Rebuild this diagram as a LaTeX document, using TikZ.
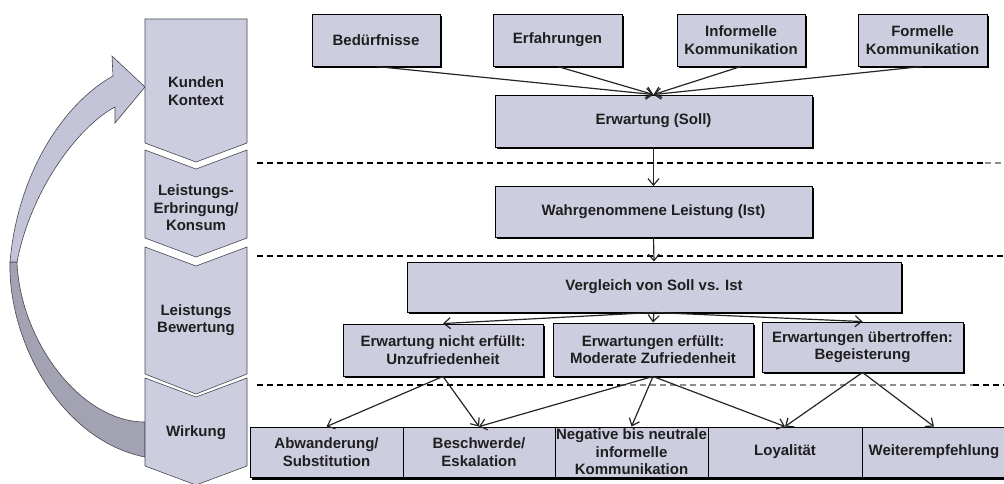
\documentclass[tikz,border=0pt]{standalone}
\usepackage{fontspec}
\setmainfont{Liberation Sans}
\usetikzlibrary{arrows.meta,shadows}

\definecolor{boxfill}{RGB}{205,205,224}
\definecolor{bandlight}{RGB}{196,196,216}
\definecolor{banddark}{RGB}{162,162,178}
\definecolor{chevline}{RGB}{70,70,80}
\definecolor{sepgrey}{RGB}{140,140,140}

\begin{document}
\begin{tikzpicture}[x=1pt,y=-1pt,
  txt/.style={font=\fontsize{15}{17.5}\selectfont\bfseries, text=black!88},
  box/.style={txt, draw=black, line width=0.9pt, fill=boxfill, align=center,
    inner sep=0pt,
    drop shadow={shadow xshift=1.5pt, shadow yshift=-1.5pt, fill=black, opacity=1}},
  cell/.style={txt, draw=black, line width=0.9pt, fill=boxfill, align=center,
    inner sep=0pt, minimum height=50pt},
  chev/.style={fill=boxfill, draw=chevline, line width=0.6pt},
  stagetxt/.style={txt, align=center},
  conn/.style={draw=black!85, line width=1.2pt,
    -{Straight Barb[length=6.5pt,width=11pt,line width=1.2pt]}},
  sep/.style={line width=1.2pt, dash pattern=on 6pt off 4pt},
]
\useasboundingbox (0,0) rectangle (1004,483);

% ---- feedback ribbon from "Wirkung" back to "Kunden Kontext"
\path[fill=banddark, draw=chevline, line width=0.6pt]
  (10,262) .. controls (8,340) and (60,440) .. (145,457)
  -- (145,422) .. controls (80,422) and (20,340) .. (17,262) -- cycle;
\path[fill=bandlight, draw=chevline, line width=0.6pt]
  (10,262) .. controls (18,170) and (66,102) .. (113,76)
  -- (112,56) -- (145,87) -- (115,123) -- (115,107)
  .. controls (82,124) and (32,185) .. (17,262) -- cycle;

% ---- phase chevrons
\path[chev] (145,19) -- (247,19) -- (247,143) -- (196,162) -- (145,143) -- cycle;
\path[chev] (145,150) -- (196,169) -- (247,150) -- (247,238) -- (196,257) -- (145,238) -- cycle;
\path[chev] (145,247) -- (196,266) -- (247,247) -- (247,374) -- (196,394) -- (145,374) -- cycle;
\path[chev] (145,378) -- (196,397) -- (247,378) -- (247,466) -- (196,485) -- (145,466) -- cycle;

\node[stagetxt] (kunden) at (196,91) {Kunden\\Kontext};
\node[stagetxt] (erbring) at (196,208) {Leistungs-\\Erbringung/\\Konsum};
\node[stagetxt] (bewert) at (196,320) {Leistungs\\Bewertung};
\node[stagetxt] (wirk) at (196,433) {Wirkung};

% ---- phase separators
\draw[sep] (257,163) -- (985,163);
\draw[sep, sepgrey] (985,163) -- (1004,163);
\draw[sep] (257,256) -- (1004,256);
\draw[sep] (257,385) -- (620,385);
\draw[sep, sepgrey] (620,385) -- (973,385);
\draw[sep] (973,385) -- (1004,385);

% ---- influences on the expectation
\node[box, minimum width=128pt, minimum height=52pt] (bed) at (376,40) {Bedürfnisse};
\node[box, minimum width=129pt, minimum height=52pt] (erf) at (557.5,40) {Erfahrungen};
\node[box, minimum width=128pt, minimum height=52pt] (inf) at (741,40) {Informelle\\Kommunikation};
\node[box, minimum width=129pt, minimum height=52pt] (form) at (922.5,40) {Formelle\\Kommunikation};

\node[box, minimum width=317pt, minimum height=52pt] (soll) at (653.5,121) {Erwartung (Soll)};
\node[box, minimum width=317pt, minimum height=51pt] (ist) at (653.5,212) {Wahrgenommene Leistung (Ist)};
\node[box, minimum width=494pt, minimum height=50pt] (vgl) at (654,287) {Vergleich von Soll vs. Ist};

% ---- comparison outcomes
\node[box, minimum width=200pt, minimum height=52pt] (unz) at (443,350) {Erwartung nicht erfüllt:\\Unzufriedenheit};
\node[box, minimum width=200pt, minimum height=53pt] (mod) at (653,349.5) {Erwartungen erfüllt:\\Moderate Zufriedenheit};
\node[box, minimum width=201pt, minimum height=50pt] (beg) at (862.5,347) {Erwartungen übertroffen:\\Begeisterung};

% ---- effects row
\fill[black] (251.5,429) rectangle (1008,479.5);
\node[cell, minimum width=153pt] (abw) at (326.5,452) {Abwanderung/\\Substitution};
\node[cell, minimum width=152pt] (esk) at (479,452) {Beschwerde/\\Eskalation};
\node[cell, minimum width=153pt] (neg) at (631.5,452) {Negative bis neutrale\\informelle\\Kommunikation};
\node[cell, minimum width=154pt] (loy) at (785,452) {Loyalität};
\node[cell, minimum width=144pt] (wei) at (934,452) {Weiterempfehlung};

% ---- connectors
\draw[conn] (bed.south) -- (soll.north);
\draw[conn] (erf.south) -- (soll.north);
\draw[conn] (inf.south) -- (soll.north);
\draw[conn] (form.south) -- (soll.north);
\draw[conn] (soll.south) -- (ist.north);
\draw[conn] (ist.south) -- (vgl.north);
\draw[conn] (vgl.south) -- (unz.north);
\draw[conn] (vgl.south) -- (mod.north);
\draw[conn] (vgl.south) -- (beg.north);
\draw[conn] (unz.south) -- (abw.north);
\draw[conn] (unz.south) -- (esk.north);
\draw[conn] (mod.south) -- (esk.north);
\draw[conn] (mod.south) -- (neg.north);
\draw[conn] (mod.south) -- (loy.north);
\draw[conn] (beg.south) -- (loy.north);
\draw[conn] (beg.south) -- (wei.north);
\end{tikzpicture}
\end{document}
